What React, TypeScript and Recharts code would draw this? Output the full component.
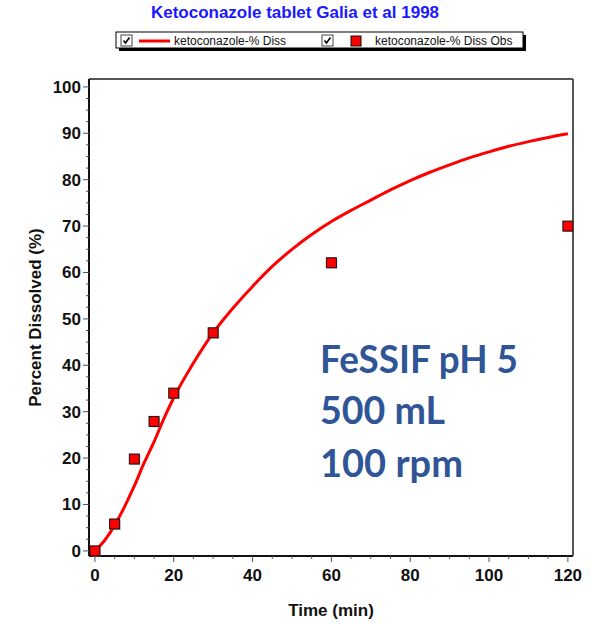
import React from 'react';
import { ComposedChart, Line, Scatter, XAxis, YAxis } from 'recharts';

// model curve
const curveTime = [0, 2.5, 5, 7.5, 10, 12.5, 15, 17.5, 20, 25, 30, 35, 40, 45, 50, 55, 60, 65, 70, 75, 80, 85, 90, 95, 100, 105, 110, 115, 120];
const curvePct = [0, 2.3, 5.5, 9.5, 14, 19, 23.5, 28.5, 33, 40.5, 47, 52.3, 57, 61.3, 65, 68.2, 71, 73.4, 75.6, 77.8, 79.8, 81.6, 83.2, 84.7, 86, 87.2, 88.2, 89.1, 89.9];

// observed points
const obsTime = [0, 5, 10, 15, 20, 30, 60, 120];
const obsPct = [0, 5.8, 19.8, 27.9, 34, 47, 62.1, 70];

// ticks
const xTicks = [0, 5, 10, 15, 20, 25, 30, 35, 40, 45, 50, 55, 60, 65, 70, 75, 80, 85, 90, 95, 100, 105, 110, 115, 120];
const xLabels = [0, 20, 40, 60, 80, 100, 120];
const yTicks = [0, 2.5, 5, 7.5, 10, 12.5, 15, 17.5, 20, 22.5, 25, 27.5, 30, 32.5, 35, 37.5, 40, 42.5, 45, 47.5, 50, 52.5, 55, 57.5, 60, 62.5, 65, 67.5, 70, 72.5, 75, 77.5, 80, 82.5, 85, 87.5, 90, 92.5, 95, 97.5, 100];
const yLabels = [0, 10, 20, 30, 40, 50, 60, 70, 80, 90, 100];

const title = 'Ketoconazole tablet Galia et al 1998';
const lineName = 'ketoconazole-% Diss';
const obsName = 'ketoconazole-% Diss Obs';
const noteLines = ['FeSSIF pH 5', '500 mL', '100 rpm'];

const curveData = curveTime.map((t, i) => ({ t, pct: curvePct[i] }));
const obsData = obsTime.map((t, i) => ({ t, pct: obsPct[i] }));

const FONT = '"Liberation Sans", Arial, sans-serif';

const XTick = (props: any) => {
  const { x, y, payload } = props;
  const major = xLabels.includes(payload.value);
  return (
    <g>
      <line x1={x} y1={y} x2={x} y2={y + (major ? 6 : 3)} stroke="#555" strokeWidth={1} />
      {major && (
        <text x={x} y={y + 25} textAnchor="middle" fontSize={17} fontWeight="bold" fill="#111" fontFamily={FONT}>
          {payload.value}
        </text>
      )}
    </g>
  );
};

const YTick = (props: any) => {
  const { x, y, payload } = props;
  const major = yLabels.includes(payload.value);
  return (
    <g>
      <line x1={x} y1={y} x2={x - (major ? 6 : 3)} y2={y} stroke="#555" strokeWidth={1} />
      {major && (
        <text x={x - 8} y={y + 6} textAnchor="end" fontSize={17} fontWeight="bold" fill="#111" fontFamily={FONT}>
          {payload.value}
        </text>
      )}
    </g>
  );
};

const Square = (props: any) => {
  const { cx, cy } = props;
  return (
    <g>
      <rect x={cx - 4} y={cy - 4} width={10} height={10} fill="#888" opacity={0.5} />
      <rect x={cx - 5} y={cy - 5} width={10} height={10} fill="#ff0000" stroke="#111" strokeWidth={1} />
    </g>
  );
};

const CheckBox = ({ x, y }: { x: number; y: number }) => (
  <g>
    <rect x={x} y={y} width={11} height={11} fill="#fff" stroke="#444" strokeWidth={1} />
    <path d={`M${x + 2.5} ${y + 5.5} L${x + 4.5} ${y + 8} L${x + 8.5} ${y + 2.5}`} fill="none" stroke="#000" strokeWidth={1.6} />
  </g>
);

export default function App() {
  return (
    <div style={{ position: 'absolute', left: 0, top: 0, width: 597, height: 624, background: '#fff' }}>
      <ComposedChart
        width={597}
        height={624}
        margin={{ top: 78, right: 23, bottom: 0, left: 0 }}
        style={{ fontFamily: FONT }}
      >
        <XAxis
          dataKey="t"
          type="number"
          domain={[-1.5, 121.3]}
          ticks={xTicks}
          interval={0}
          tickSize={0}
          tickMargin={0}
          tickLine={false}
          tick={<XTick />}
          height={68}
          axisLine={{ stroke: '#111', strokeWidth: 2 }}
          label={{ value: 'Time (min)', position: 'center', dy: 20, fontSize: 17, fontWeight: 'bold', fill: '#111' }}
        />
        <XAxis xAxisId="top" orientation="top" type="number" domain={[0, 1]} height={1} tick={false} tickLine={false} axisLine={{ stroke: '#555', strokeWidth: 2 }} />
        <YAxis
          dataKey="pct"
          type="number"
          domain={[-1.1, 101.7]}
          ticks={yTicks}
          interval={0}
          tickSize={0}
          tickMargin={0}
          tickLine={false}
          tick={<YTick />}
          width={89}
          axisLine={{ stroke: '#111', strokeWidth: 2 }}
          label={{ value: 'Percent Dissolved (%)', angle: -90, position: 'center', dx: -10, fontSize: 17, fontWeight: 'bold', fill: '#111' }}
        />
        <YAxis yAxisId="right" orientation="right" type="number" domain={[0, 1]} width={1} tick={false} tickLine={false} axisLine={{ stroke: '#555', strokeWidth: 2 }} />
        <Line
          data={curveData}
          dataKey="pct"
          type="monotone"
          stroke="#ff0000"
          strokeWidth={3}
          dot={false}
          activeDot={false}
          isAnimationActive={false}
        />
        <Scatter data={obsData} dataKey="pct" shape={<Square />} isAnimationActive={false} />
      </ComposedChart>

      <svg width={597} height={624} style={{ position: 'absolute', left: 0, top: 0, pointerEvents: 'none' }}>
        <text x={295} y={18} textAnchor="middle" fontFamily={FONT} fontWeight="bold" fontSize={17} fill="#1a1aff">
          {title}
        </text>

        {/* legend box */}
        <rect x={119} y={35} width={407} height={16} fill="#000" />
        <rect x={116} y={32} width={407} height={16} fill="#fff" stroke="#000" strokeWidth={1} />
        <CheckBox x={121} y={35} />
        <line x1={139} y1={41} x2={170} y2={41} stroke="#ff0000" strokeWidth={3} />
        <text x={174} y={45} fontFamily={FONT} fontSize={12} fill="#111">{lineName}</text>
        <CheckBox x={322} y={35} />
        <rect x={351} y={36} width={10} height={10} fill="#ff0000" stroke="#111" strokeWidth={1} />
        <text x={375} y={45} fontFamily={FONT} fontSize={12} fill="#111">{obsName}</text>

        {/* annotation */}
        <text x={320} y={373} fontFamily="Lato, 'Open Sans', sans-serif" fontWeight="bold" fontSize={38} fill="#2f5597" textLength={198} lengthAdjust="spacingAndGlyphs">
          {noteLines[0]}
        </text>
        <text x={320} y={424} fontFamily="Lato, 'Open Sans', sans-serif" fontWeight="bold" fontSize={38} fill="#2f5597" textLength={125} lengthAdjust="spacingAndGlyphs">
          {noteLines[1]}
        </text>
        <text x={320} y={477} fontFamily="Lato, 'Open Sans', sans-serif" fontWeight="bold" fontSize={38} fill="#2f5597" textLength={143} lengthAdjust="spacingAndGlyphs">
          {noteLines[2]}
        </text>
      </svg>
    </div>
  );
}
